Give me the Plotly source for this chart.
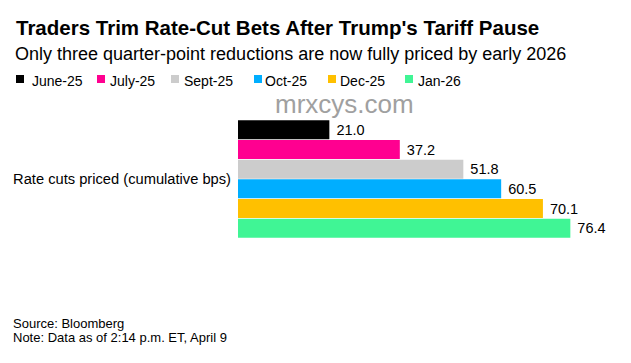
import plotly.graph_objects as go

category = ["Rate cuts priced (cumulative bps)"]
series_names = ["June-25", "July-25", "Sept-25", "Oct-25", "Dec-25", "Jan-26"]
series_values = [21.0, 37.2, 51.8, 60.5, 70.1, 76.4]
series_colors = ["#000000", "#FF0090", "#CCCCCC", "#00AEFF", "#FFC000", "#40F595"]

W, H = 631, 363
L, R, T, B = 238, 45, 120, 125
PW, PH = W - L - R, H - T - B
FONT = "Liberation Sans, Arial, sans-serif"


def px(x):
    return (x - L) / PW


def py(y):
    return 1 - (y - T) / PH


fig = go.Figure()
for name, val, col in zip(series_names, series_values, series_colors):
    fig.add_trace(go.Bar(
        y=category, x=[val], name=name, orientation="h",
        marker=dict(color=col, line=dict(width=0)),
        text=["\u00a0" + f"{val:.1f}"], textposition="outside",
        textfont=dict(size=14.5, color="#000000", family=FONT),
        cliponaxis=False, showlegend=False, hoverinfo="skip",
    ))

fig.update_layout(
    width=W, height=H,
    margin=dict(l=L, r=R, t=T, b=B, autoexpand=False),
    paper_bgcolor="white", plot_bgcolor="white",
    barmode="group", bargap=0, bargroupgap=0.03,
    font=dict(family=FONT, color="#000000"),
    xaxis=dict(range=[0, 80], visible=False, fixedrange=True),
    yaxis=dict(autorange="reversed", showgrid=False, zeroline=False,
               showline=False, ticks="", ticklabelstandoff=6, fixedrange=True,
               tickfont=dict(size=14.7, color="#000000", family=FONT)),
)

annotations = [
    dict(text="<b>Traders Trim Rate-Cut Bets After Trump's Tariff Pause</b>", x=13.5, y=28,
         font=dict(size=20.5)),
    dict(text="Only three quarter-point reductions are now fully priced by early 2026", x=13, y=53.5,
         font=dict(size=18)),
    dict(text="Source: Bloomberg", x=11, y=323, font=dict(size=13)),
    dict(text="Note: Data as of 2:14 p.m. ET, April 9", x=11, y=337.5, font=dict(size=13)),
    dict(text="mrxcys.com", x=273, y=104, font=dict(size=26, color="#a0a0a0")),
]
shapes = []
square_x = [16, 97, 171, 254, 328, 405]
text_x = [30, 108, 182, 263, 338, 416]
for name, col, sx, tx in zip(series_names, series_colors, square_x, text_x):
    annotations.append(dict(text=name, x=tx, y=80.5, font=dict(size=14)))
    shapes.append(dict(type="rect", xref="paper", yref="paper",
                       x0=px(sx), x1=px(sx + 8), y0=py(75), y1=py(83),
                       fillcolor=col, line=dict(width=0)))

for a in annotations:
    a.update(xref="paper", yref="paper", showarrow=False, xanchor="left", yanchor="middle")
    a["x"] = px(a["x"])
    a["y"] = py(a["y"])
    a["font"].setdefault("family", FONT)
    a["font"].setdefault("color", "#000000")
fig.update_layout(annotations=annotations, shapes=shapes)

fig.write_html("out.html", config={"displayModeBar": False},
               post_script="document.body.style.margin='0';")
